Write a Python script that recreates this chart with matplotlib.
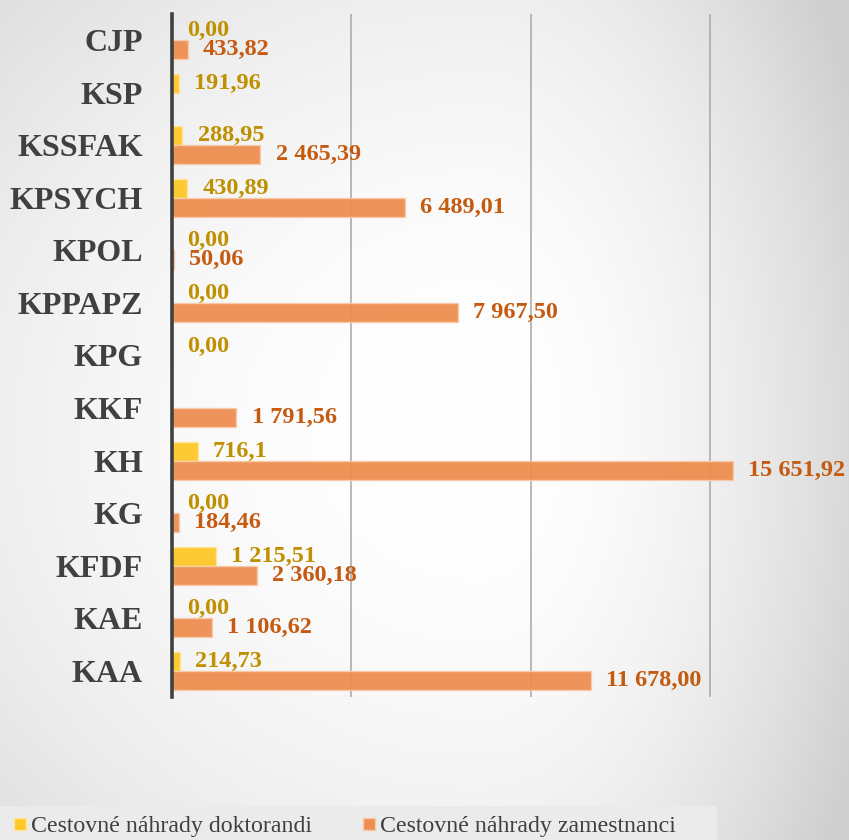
import numpy as np
import matplotlib.pyplot as plt
from matplotlib.lines import Line2D
from matplotlib.patches import Rectangle

# categories listed bottom -> top (as drawn on the y axis)
categories = ['KAA', 'KAE', 'KFDF', 'KG', 'KH', 'KKF', 'KPG',
              'KPPAPZ', 'KPOL', 'KPSYCH', 'KSSFAK', 'KSP', 'CJP']
doktorandi = [214.73, 0.00, 1215.51, 0.00, 716.1, np.nan, 0.00,
              0.00, 0.00, 430.89, 288.95, 191.96, 0.00]
zamestnanci = [11678.00, 1106.62, 2360.18, 184.46, 15651.92, 1791.56, np.nan,
               7967.50, 50.06, 6489.01, 2465.39, np.nan, 433.82]
doktorandi_labels = ['214,73', '0,00', '1 215,51', '0,00', '716,1', '', '0,00',
                     '0,00', '0,00', '430,89', '288,95', '191,96', '0,00']
zamestnanci_labels = ['11 678,00', '1 106,62', '2 360,18', '184,46', '15 651,92',
                      '1 791,56', '', '7 967,50', '50,06', '6 489,01',
                      '2 465,39', '', '433,82']
series_names = ['Cestovné náhrady doktorandi', 'Cestovné náhrady zamestnanci']

plt.rcParams['font.family'] = ['Liberation Serif', 'DejaVu Serif']

W, H = 849, 840
fig = plt.figure(figsize=(W / 100, H / 100), dpi=100)

# background gradient
bg = fig.add_axes([0, 0, 1, 1], zorder=-10)
yy, xx = np.mgrid[0:H, 0:W]
cx, cy = 480, 430
sx = np.where(xx < cx, 760, 380)
dx = (xx - cx) / sx
dy = (yy - cy) / 680
v = np.clip(255 - 40 * (dx ** 2 + dy ** 2), 208, 255) / 255
bg.imshow(np.dstack([v, v, v]), aspect='auto', extent=[0, 1, 0, 1])
bg.axis('off')

# legend strip
fig.patches.append(Rectangle((0, 0), 717 / W, 34 / H, transform=fig.transFigure,
                             facecolor='#ebebeb', edgecolor='none', zorder=-5))

ax = fig.add_axes([172 / W, 1 - 697 / H, 668 / W, 683 / H])
ax.patch.set_alpha(0)

y = np.arange(len(categories))
h = 0.362
yel = '#FFC829'
org = '#EE8E50'
ax.barh(y + h / 2, doktorandi, height=h, color=yel, edgecolor='#ffe699',
        linewidth=1, alpha=0.95, zorder=3)
ax.barh(y - h / 2, zamestnanci, height=h, color=org, edgecolor='#f8cbad',
        linewidth=1, alpha=0.95, zorder=3)

for i in range(len(categories)):
    if not np.isnan(doktorandi[i]):
        ax.annotate(doktorandi_labels[i], (doktorandi[i], y[i] + h / 2),
                    xytext=(11, 0), textcoords='offset points', va='center',
                    ha='left', fontsize=17.5, fontweight='bold', color='#BF9000')
    if not np.isnan(zamestnanci[i]):
        ax.annotate(zamestnanci_labels[i], (zamestnanci[i], y[i] - h / 2),
                    xytext=(11, 0), textcoords='offset points', va='center',
                    ha='left', fontsize=17.5, fontweight='bold', color='#C55A11')

ax.set_xlim(0, 18630)
ax.set_ylim(-0.5, len(categories) - 0.5)
ax.set_yticks(y)
ax.set_yticklabels(categories, fontsize=23, fontweight='bold', color='#404040')
ax.tick_params(axis='y', length=0, pad=21)
ax.set_xticks([5000, 10000, 15000])
ax.tick_params(axis='x', length=0, labelbottom=False)
ax.grid(axis='x', color='#a6a6a6', linewidth=1.1, zorder=1)
for s in ['top', 'right', 'bottom']:
    ax.spines[s].set_visible(False)
ax.spines['left'].set_color('#404040')
ax.spines['left'].set_linewidth(2.6)
ax.spines['left'].set_zorder(4)

handles = [Line2D([], [], linestyle='none', marker='s', markersize=8,
                  markerfacecolor=yel, markeredgecolor='#ffe699'),
           Line2D([], [], linestyle='none', marker='s', markersize=8,
                  markerfacecolor=org, markeredgecolor='#f8cbad')]
fig.legend(handles, series_names, loc='center left',
           bbox_to_anchor=(0.0, 1 - 826 / H), ncol=2, frameon=False,
           prop={'size': 17.2}, labelcolor='#404040', handlelength=0.6,
           handletextpad=0.15, columnspacing=2.1, borderpad=0, borderaxespad=0.55)

fig.savefig('out.png', dpi=100)
